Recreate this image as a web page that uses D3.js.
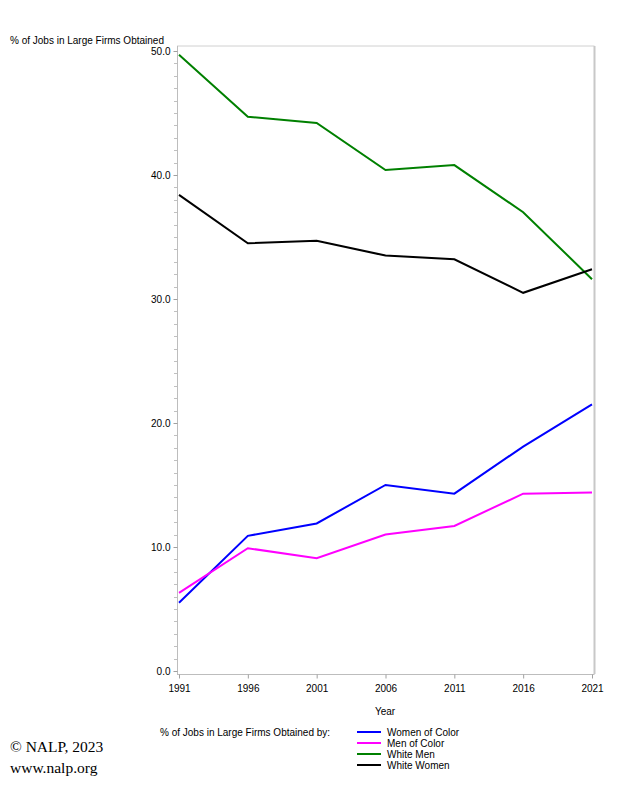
<!DOCTYPE html>
<html><head><meta charset="utf-8">
<script src="https://cdn.jsdelivr.net/npm/d3@7"></script>
<style>body{margin:0;background:#fff;} text{font-family:"Liberation Sans",Arial,sans-serif;}</style>
</head><body>
<svg id="c" width="625" height="792"></svg>
<script>
const years = [1991, 1996, 2001, 2006, 2011, 2016, 2021];
const womenOfColor = [5.5, 10.9, 11.9, 15.0, 14.3, 18.1, 21.5];
const menOfColor = [6.3, 9.9, 9.1, 11.0, 11.7, 14.3, 14.4];
const whiteMen = [49.7, 44.7, 44.2, 40.4, 40.8, 37.0, 31.6];
const whiteWomen = [38.4, 34.5, 34.7, 33.5, 33.2, 30.5, 32.4];
const seriesNames = ["Women of Color", "Men of Color", "White Men", "White Women"];
const seriesColors = ["#0000ff", "#ff00ff", "#008000", "#000000"];
const yTicks = [0, 10, 20, 30, 40, 50];

const series = [womenOfColor, menOfColor, whiteMen, whiteWomen];
const svg = d3.select("#c");
const x = d3.scaleLinear().domain([1991, 2021]).range([179, 592]);
const y = d3.scaleLinear().domain([0, 50]).range([671, 51]);

// frame
svg.append("line").attr("x1",177).attr("x2",594.5).attr("y1",46).attr("y2",46).attr("stroke","#d0d0d0").attr("stroke-width",1);
svg.append("line").attr("x1",594.5).attr("x2",594.5).attr("y1",46).attr("y2",674).attr("stroke","#c8c8c8").attr("stroke-width",2);
svg.append("line").attr("x1",177).attr("x2",594.5).attr("y1",674.5).attr("y2",674.5).attr("stroke","#bdbdbd").attr("stroke-width",1);
svg.append("line").attr("x1",177.5).attr("x2",177.5).attr("y1",46).attr("y2",675).attr("stroke","#bdbdbd").attr("stroke-width",1);

// minor y ticks
const minor = d3.range(0, 51, 1);
svg.append("g").selectAll("line").data(minor).join("line")
  .attr("x1",174).attr("x2",177).attr("y1",d=>Math.round(y(d))+0.5).attr("y2",d=>Math.round(y(d))+0.5)
  .attr("stroke","#c0c0c0");

// y axis labels
const yAxis = d3.axisLeft(y).tickValues(yTicks).tickFormat(d3.format(".1f")).tickSize(4).tickPadding(3);
const ga = svg.append("g").attr("transform","translate(177.5,0)").call(yAxis);
ga.select(".domain").remove();
ga.selectAll("line").attr("stroke","#a0a0a0");
ga.selectAll("text").attr("font-size",10).attr("fill","#000").style("font-family","Liberation Sans, Arial, sans-serif");

// x axis
const xAxis = d3.axisBottom(x).tickValues(years).tickFormat(d3.format("d")).tickSize(4).tickPadding(6);
const gx = svg.append("g").attr("transform","translate(0,674.5)").call(xAxis);
gx.select(".domain").remove();
gx.selectAll("line").attr("stroke","#a0a0a0");
gx.selectAll("text").attr("font-size",10).attr("fill","#000").style("font-family","Liberation Sans, Arial, sans-serif");

// lines
const line = d3.line().x((d,i)=>x(years[i])).y(d=>y(d));
series.forEach((s,k)=>{
  svg.append("path").datum(s).attr("d",line).attr("fill","none")
    .attr("stroke",seriesColors[k]).attr("stroke-width",2).attr("stroke-linejoin","miter");
});

// titles
svg.append("text").attr("x",10).attr("y",44).attr("font-size",10).text("% of Jobs in Large Firms Obtained");
svg.append("text").attr("x",385).attr("y",715).attr("font-size",10).attr("text-anchor","middle").text("Year");
svg.append("text").attr("x",160).attr("y",736).attr("font-size",10).text("% of Jobs in Large Firms Obtained by:");

// legend
const lg = svg.append("g");
seriesNames.forEach((n,k)=>{
  const yy = 732 + k*11;
  lg.append("line").attr("x1",357).attr("x2",381).attr("y1",yy).attr("y2",yy).attr("stroke",seriesColors[k]).attr("stroke-width",2);
  lg.append("text").attr("x",387).attr("y",yy+3.5).attr("font-size",10).text(n);
});

// footer
svg.append("text").attr("x",10).attr("y",752).attr("font-size",15.5).style("font-family","Liberation Serif, serif").text("© NALP, 2023");
svg.append("text").attr("x",10).attr("y",773).attr("font-size",15.5).style("font-family","Liberation Serif, serif").text("www.nalp.org");
</script>
</body></html>
